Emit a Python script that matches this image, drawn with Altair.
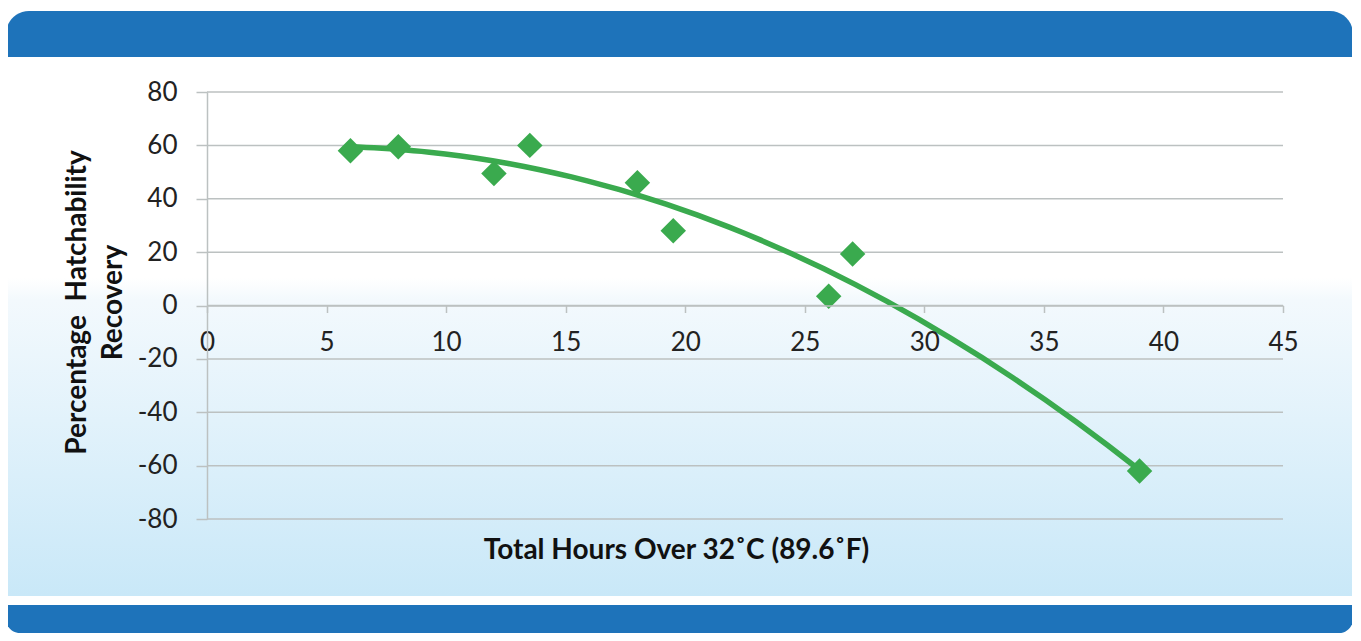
import altair as alt
import pandas as pd

# ---- data ----
hours = [6, 8, 12, 13.5, 18, 19.5, 26, 27, 39]
recovery = [58, 59.5, 49.5, 60, 46, 28, 3.5, 19.3, -62]
x_ticks = [0, 5, 10, 15, 20, 25, 30, 35, 40, 45]
y_ticks = [-80, -60, -40, -20, 0, 20, 40, 60, 80]
x_title = "Total Hours Over 32˚C (89.6˚F)"
y_title = ["Percentage\u00a0 Hatchability", "Recovery"]

df = pd.DataFrame({"hours": hours, "recovery": recovery})
grid_df = pd.DataFrame({"recovery": y_ticks})

W, H = 1076, 427
GREEN = "#3aaa4e"
BLUE = "#1e73ba"
GRAY = "#bcc1c1"
FONT = "Lato"

one = alt.InlineData(values=[{"d": 0}])

panel = alt.Chart(one).mark_rect(
    fill=alt.Gradient(
        gradient="linear", x1=0, x2=0, y1=0, y2=1,
        stops=[
            alt.GradientStop(color="#ffffff", offset=0),
            alt.GradientStop(color="#ffffff", offset=0.41),
            alt.GradientStop(color="#f3f9fd", offset=0.45),
            alt.GradientStop(color="#c9e8f8", offset=1),
        ],
    )
).encode(x=alt.value(-201), x2=alt.value(1146), y=alt.value(-35), y2=alt.value(504))

header = alt.Chart(one).mark_rect(
    color=BLUE, cornerRadiusTopLeft=28, cornerRadiusTopRight=28
).encode(x=alt.value(-201), x2=alt.value(1146), y=alt.value(-81), y2=alt.value(-35))

footer = alt.Chart(one).mark_rect(
    color=BLUE, cornerRadiusBottomLeft=18, cornerRadiusBottomRight=18
).encode(x=alt.value(-201), x2=alt.value(1146), y=alt.value(513), y2=alt.value(541))

xscale = alt.Scale(domain=[0, 45], nice=False, zero=False)
yscale = alt.Scale(domain=[-80, 80], nice=False, zero=False)

x_axis = alt.Axis(
    values=x_ticks, offset=-213.5, grid=False, zindex=1, labelExpr="'' + datum.value",
    domainColor=GRAY, domainWidth=1.5, tickColor=GRAY, tickWidth=1.5, tickSize=7,
    labelFont=FONT, labelFontSize=26, labelColor="#222222", labelPadding=17,
    title=x_title, titleFont=FONT, titleFontSize=28, titleFontWeight="bold",
    titleColor="#111111", titleX=469, titleY=244.5, titleAlign="center",
    titleBaseline="middle", labelFlush=False, labelOverlap=False,
)
y_axis = alt.Axis(
    values=y_ticks, grid=False, zindex=1, labelExpr="'' + datum.value",
    domainColor=GRAY, domainWidth=1.5, tickColor=GRAY, tickWidth=1.5, tickSize=11,
    labelFont=FONT, labelFontSize=26, labelColor="#222222", labelPadding=19,
    title=y_title, titleFont=FONT, titleFontSize=28, titleFontWeight="bold",
    titleColor="#111111", titleX=-130, titleY=210, titleAngle=270,
    titleAlign="center", titleBaseline="middle", titleLineHeight=36,
    labelFlush=False, labelOverlap=False,
)

grid = alt.Chart(grid_df).mark_rule(color=GRAY, strokeWidth=1.5).encode(
    y=alt.Y("recovery:Q", scale=yscale, axis=y_axis),
    x=alt.value(0), x2=alt.value(W),
)

trend = alt.Chart(df).transform_regression(
    "hours", "recovery", method="poly", order=2
).mark_line(color=GREEN, strokeWidth=5.5).encode(
    x=alt.X("hours:Q", scale=xscale, axis=x_axis),
    y=alt.Y("recovery:Q", scale=yscale, axis=y_axis),
)

points = alt.Chart(df).mark_point(
    shape="diamond", filled=True, size=650, color=GREEN, opacity=1
).encode(
    x=alt.X("hours:Q", scale=xscale, axis=x_axis),
    y=alt.Y("recovery:Q", scale=yscale, axis=y_axis),
)

chart = alt.layer(panel, header, footer, grid, trend, points).properties(
    width=W, height=H,
    autosize=alt.AutoSizeParams(type="none"),
    padding={"left": 199, "top": 84, "right": 69, "bottom": 114},
    background="white",
).configure_view(stroke=None)

chart.save("out.html", embed_options={"renderer": "svg", "actions": False})
